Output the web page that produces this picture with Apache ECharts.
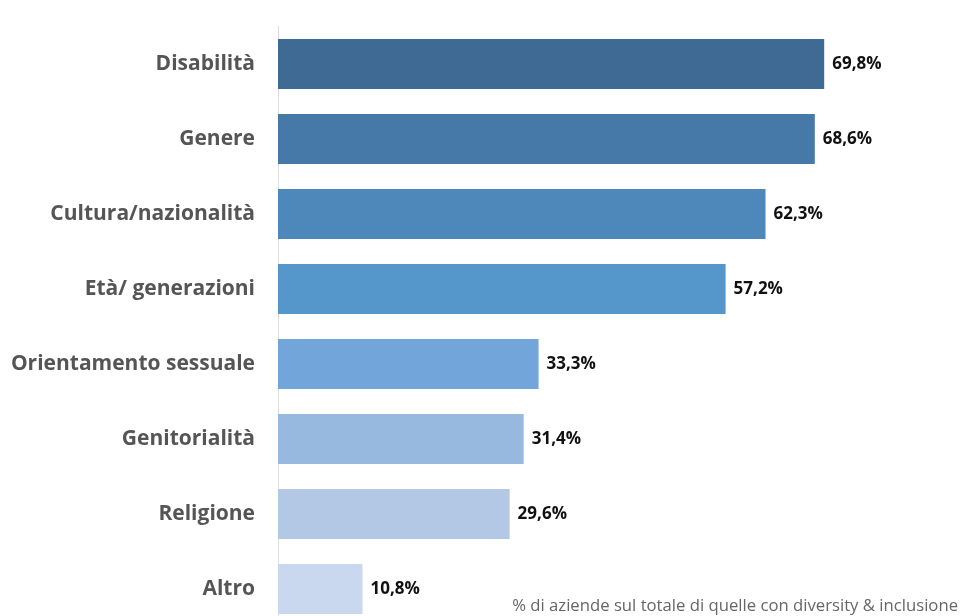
<!DOCTYPE html>
<html><head><meta charset="utf-8">
<script src="https://cdn.jsdelivr.net/npm/echarts@6/dist/echarts.min.js"></script>
<style>html,body{margin:0;padding:0;background:#fff}#c{width:961px;height:616px}</style>
</head><body><div id="c"></div>
<script>
const categories = ["Disabilità","Genere","Cultura/nazionalità","Età/ generazioni","Orientamento sessuale","Genitorialità","Religione","Altro"];
const values = [69.8,68.6,62.3,57.2,33.3,31.4,29.6,10.8];
const barColors = ["#3f6a93","#4679a8","#4e87ba","#5596cb","#72a6da","#97b9df","#b2c8e5","#c9d8ee"];
const footnote = "% di aziende sul totale di quelle con diversity & inclusione";

const chart = echarts.init(document.getElementById('c'));
chart.setOption({
  animation:false,
  textStyle:{fontFamily:'Open Sans'},
  grid:{left:278, top:26.5, width:626, height:600, outerBoundsMode:'none', containLabel:false},
  xAxis:{type:'value', min:0, max:80, show:false},
  yAxis:{type:'category', data:categories, inverse:true,
    axisLine:{show:true, lineStyle:{color:'#dcdcdc', width:1}},
    axisTick:{show:false},
    axisLabel:{margin:23, color:'#555', fontSize:21, fontWeight:'bold', fontFamily:'Open Sans'}
  },
  series:[{type:'bar', barWidth:50,
    data: values.map((v,i)=>({value:v, itemStyle:{color:barColors[i]}})),
    label:{show:true, position:'right', distance:8, color:'#111', fontSize:17, fontWeight:'bold', fontFamily:'Open Sans',
      formatter:p=>p.value.toFixed(1).replace('.',',')+'%'}
  }],
  graphic:[{type:'text', right:3, bottom:1,
    style:{text:footnote, fill:'#666', font:'16.7px "Open Sans"'}}]
});
</script></body></html>
